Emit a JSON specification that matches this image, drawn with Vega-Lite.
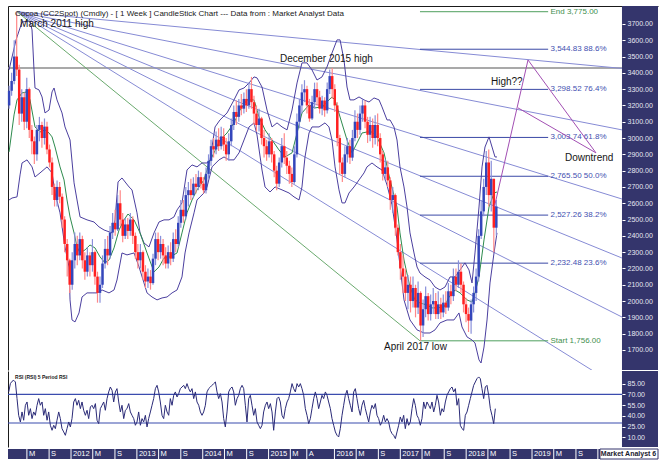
{
  "$schema": "https://vega.github.io/schema/vega-lite/v6.json",
  "background": "#ffffff",
  "padding": {"left": 6, "top": 6, "right": 11, "bottom": 9},
  "spacing": 1,
  "config": {"view": {"stroke": null}, "font": "Liberation Sans", "axis": {"grid": false}},
  "datasets": {
    "candles": [
      {"t":2011.060,"o":3200,"h":3320,"l":3180,"c":3290},{"t":2011.098,"o":3290,"h":3400,"l":3260,"c":3350},{"t":2011.137,"o":3350,"h":3600,"l":3330,"c":3500},{"t":2011.175,"o":3500,"h":3775,"l":3380,"c":3420},{"t":2011.213,"o":3420,"h":3450,"l":3080,"c":3150},{"t":2011.252,"o":3150,"h":3300,"l":3100,"c":3250},{"t":2011.290,"o":3250,"h":3280,"l":3050,"c":3100},{"t":2011.328,"o":3100,"h":3370,"l":3060,"c":3300},{"t":2011.366,"o":3300,"h":3310,"l":3000,"c":3050},{"t":2011.405,"o":3050,"h":3080,"l":2900,"c":2980},
      {"t":2011.443,"o":2980,"h":3010,"l":2840,"c":2900},{"t":2011.482,"o":2900,"h":3080,"l":2860,"c":3050},{"t":2011.520,"o":3050,"h":3130,"l":2980,"c":3080},{"t":2011.558,"o":3080,"h":3100,"l":2940,"c":3000},{"t":2011.597,"o":3000,"h":3120,"l":2960,"c":3070},{"t":2011.635,"o":3070,"h":3100,"l":2900,"c":2930},{"t":2011.673,"o":2930,"h":2960,"l":2820,"c":2850},{"t":2011.712,"o":2850,"h":2880,"l":2650,"c":2700},{"t":2011.750,"o":2700,"h":2720,"l":2580,"c":2620},{"t":2011.788,"o":2620,"h":2740,"l":2580,"c":2700},
      {"t":2011.827,"o":2700,"h":2730,"l":2600,"c":2640},{"t":2011.865,"o":2640,"h":2660,"l":2450,"c":2500},{"t":2011.903,"o":2500,"h":2520,"l":2300,"c":2350},{"t":2011.942,"o":2350,"h":2380,"l":2150,"c":2250},{"t":2011.980,"o":2250,"h":2260,"l":2050,"c":2100},{"t":2012.018,"o":2100,"h":2300,"l":2070,"c":2250},{"t":2012.057,"o":2250,"h":2420,"l":2200,"c":2350},{"t":2012.095,"o":2350,"h":2400,"l":2220,"c":2280},{"t":2012.133,"o":2280,"h":2420,"l":2250,"c":2380},{"t":2012.172,"o":2380,"h":2400,"l":2200,"c":2250},
      {"t":2012.210,"o":2250,"h":2300,"l":2130,"c":2180},{"t":2012.248,"o":2180,"h":2330,"l":2150,"c":2280},{"t":2012.287,"o":2280,"h":2300,"l":2150,"c":2220},{"t":2012.325,"o":2220,"h":2380,"l":2180,"c":2300},{"t":2012.363,"o":2300,"h":2310,"l":2100,"c":2150},{"t":2012.402,"o":2150,"h":2180,"l":1990,"c":2050},{"t":2012.440,"o":2050,"h":2150,"l":1990,"c":2100},{"t":2012.478,"o":2100,"h":2280,"l":2080,"c":2230},{"t":2012.517,"o":2230,"h":2380,"l":2200,"c":2320},{"t":2012.555,"o":2320,"h":2400,"l":2220,"c":2280},
      {"t":2012.593,"o":2280,"h":2460,"l":2260,"c":2420},{"t":2012.632,"o":2420,"h":2540,"l":2380,"c":2480},{"t":2012.670,"o":2480,"h":2560,"l":2400,"c":2440},{"t":2012.708,"o":2440,"h":2650,"l":2430,"c":2600},{"t":2012.747,"o":2600,"h":2680,"l":2460,"c":2500},{"t":2012.785,"o":2500,"h":2540,"l":2360,"c":2400},{"t":2012.823,"o":2400,"h":2510,"l":2380,"c":2470},{"t":2012.862,"o":2470,"h":2510,"l":2380,"c":2430},{"t":2012.900,"o":2430,"h":2540,"l":2400,"c":2500},{"t":2012.938,"o":2500,"h":2520,"l":2350,"c":2400},
      {"t":2012.977,"o":2400,"h":2420,"l":2260,"c":2300},{"t":2013.015,"o":2300,"h":2350,"l":2200,"c":2250},{"t":2013.053,"o":2250,"h":2350,"l":2200,"c":2300},{"t":2013.092,"o":2300,"h":2310,"l":2130,"c":2180},{"t":2013.130,"o":2180,"h":2220,"l":2080,"c":2120},{"t":2013.168,"o":2120,"h":2200,"l":2080,"c":2150},{"t":2013.207,"o":2150,"h":2190,"l":2070,"c":2110},{"t":2013.245,"o":2110,"h":2290,"l":2100,"c":2260},{"t":2013.283,"o":2260,"h":2420,"l":2220,"c":2380},{"t":2013.322,"o":2380,"h":2420,"l":2250,"c":2300},
      {"t":2013.360,"o":2300,"h":2400,"l":2260,"c":2350},{"t":2013.398,"o":2350,"h":2380,"l":2220,"c":2280},{"t":2013.437,"o":2280,"h":2330,"l":2200,"c":2230},{"t":2013.475,"o":2230,"h":2340,"l":2200,"c":2300},{"t":2013.513,"o":2300,"h":2360,"l":2220,"c":2260},{"t":2013.552,"o":2260,"h":2420,"l":2240,"c":2380},{"t":2013.590,"o":2380,"h":2440,"l":2300,"c":2350},{"t":2013.628,"o":2350,"h":2520,"l":2330,"c":2480},{"t":2013.667,"o":2480,"h":2620,"l":2450,"c":2560},{"t":2013.705,"o":2560,"h":2620,"l":2480,"c":2520},
      {"t":2013.743,"o":2520,"h":2700,"l":2500,"c":2650},{"t":2013.782,"o":2650,"h":2730,"l":2580,"c":2680},{"t":2013.820,"o":2680,"h":2750,"l":2620,"c":2650},{"t":2013.858,"o":2650,"h":2760,"l":2630,"c":2720},{"t":2013.897,"o":2720,"h":2780,"l":2660,"c":2700},{"t":2013.935,"o":2700,"h":2800,"l":2680,"c":2760},{"t":2013.973,"o":2760,"h":2790,"l":2690,"c":2720},{"t":2014.012,"o":2720,"h":2760,"l":2660,"c":2680},{"t":2014.050,"o":2680,"h":2820,"l":2660,"c":2780},{"t":2014.088,"o":2780,"h":2900,"l":2750,"c":2860},
      {"t":2014.126,"o":2860,"h":2990,"l":2830,"c":2950},{"t":2014.165,"o":2950,"h":3000,"l":2880,"c":2930},{"t":2014.203,"o":2930,"h":3040,"l":2900,"c":2990},{"t":2014.241,"o":2990,"h":3060,"l":2920,"c":2950},{"t":2014.280,"o":2950,"h":3070,"l":2930,"c":3010},{"t":2014.318,"o":3010,"h":3060,"l":2920,"c":2960},{"t":2014.356,"o":2960,"h":3000,"l":2860,"c":2900},{"t":2014.395,"o":2900,"h":3030,"l":2860,"c":2980},{"t":2014.433,"o":2980,"h":3120,"l":2950,"c":3080},{"t":2014.471,"o":3080,"h":3200,"l":3050,"c":3160},
      {"t":2014.510,"o":3160,"h":3230,"l":3080,"c":3130},{"t":2014.548,"o":3130,"h":3240,"l":3100,"c":3200},{"t":2014.586,"o":3200,"h":3270,"l":3140,"c":3180},{"t":2014.625,"o":3180,"h":3280,"l":3150,"c":3240},{"t":2014.663,"o":3240,"h":3300,"l":3160,"c":3200},{"t":2014.701,"o":3200,"h":3340,"l":3180,"c":3300},{"t":2014.740,"o":3300,"h":3375,"l":3180,"c":3220},{"t":2014.778,"o":3220,"h":3260,"l":3080,"c":3150},{"t":2014.816,"o":3150,"h":3200,"l":3040,"c":3080},{"t":2014.855,"o":3080,"h":3180,"l":3040,"c":3120},
      {"t":2014.893,"o":3120,"h":3130,"l":2960,"c":3000},{"t":2014.931,"o":3000,"h":3050,"l":2880,"c":2950},{"t":2014.970,"o":2950,"h":2990,"l":2860,"c":2900},{"t":2015.008,"o":2900,"h":3030,"l":2880,"c":2980},{"t":2015.046,"o":2980,"h":3000,"l":2850,"c":2900},{"t":2015.085,"o":2900,"h":2920,"l":2760,"c":2800},{"t":2015.123,"o":2800,"h":2830,"l":2680,"c":2720},{"t":2015.161,"o":2720,"h":2880,"l":2700,"c":2850},{"t":2015.200,"o":2850,"h":3000,"l":2820,"c":2950},{"t":2015.238,"o":2950,"h":3030,"l":2840,"c":2880},
      {"t":2015.276,"o":2880,"h":2920,"l":2780,"c":2830},{"t":2015.315,"o":2830,"h":2860,"l":2720,"c":2780},{"t":2015.353,"o":2780,"h":2820,"l":2700,"c":2730},{"t":2015.391,"o":2730,"h":2950,"l":2720,"c":2900},{"t":2015.430,"o":2900,"h":3150,"l":2880,"c":3100},{"t":2015.468,"o":3100,"h":3240,"l":3060,"c":3200},{"t":2015.506,"o":3200,"h":3330,"l":3150,"c":3280},{"t":2015.545,"o":3280,"h":3355,"l":3220,"c":3300},{"t":2015.583,"o":3300,"h":3320,"l":3150,"c":3200},{"t":2015.621,"o":3200,"h":3240,"l":3100,"c":3120},
      {"t":2015.660,"o":3120,"h":3260,"l":3110,"c":3220},{"t":2015.698,"o":3220,"h":3340,"l":3180,"c":3300},{"t":2015.736,"o":3300,"h":3340,"l":3200,"c":3250},{"t":2015.775,"o":3250,"h":3290,"l":3150,"c":3180},{"t":2015.813,"o":3180,"h":3260,"l":3140,"c":3230},{"t":2015.851,"o":3230,"h":3250,"l":3130,"c":3170},{"t":2015.890,"o":3170,"h":3340,"l":3150,"c":3300},{"t":2015.928,"o":3300,"h":3420,"l":3270,"c":3380},{"t":2015.966,"o":3380,"h":3430,"l":3240,"c":3300},{"t":2016.005,"o":3300,"h":3330,"l":3160,"c":3200},
      {"t":2016.043,"o":3200,"h":3220,"l":2950,"c":3000},{"t":2016.081,"o":3000,"h":3020,"l":2780,"c":2850},{"t":2016.120,"o":2850,"h":2880,"l":2730,"c":2780},{"t":2016.158,"o":2780,"h":2950,"l":2760,"c":2900},{"t":2016.196,"o":2900,"h":3000,"l":2850,"c":2950},{"t":2016.235,"o":2950,"h":2990,"l":2840,"c":2880},{"t":2016.273,"o":2880,"h":3050,"l":2860,"c":3000},{"t":2016.311,"o":3000,"h":3170,"l":2980,"c":3100},{"t":2016.350,"o":3100,"h":3150,"l":3000,"c":3050},{"t":2016.388,"o":3050,"h":3200,"l":3020,"c":3150},
      {"t":2016.426,"o":3150,"h":3240,"l":3100,"c":3200},{"t":2016.465,"o":3200,"h":3230,"l":3060,"c":3100},{"t":2016.503,"o":3100,"h":3130,"l":2970,"c":3020},{"t":2016.541,"o":3020,"h":3130,"l":2980,"c":3080},{"t":2016.580,"o":3080,"h":3120,"l":2940,"c":3000},{"t":2016.618,"o":3000,"h":3140,"l":2960,"c":3080},{"t":2016.656,"o":3080,"h":3150,"l":2950,"c":3000},{"t":2016.695,"o":3000,"h":3030,"l":2850,"c":2900},{"t":2016.733,"o":2900,"h":2920,"l":2740,"c":2780},{"t":2016.771,"o":2780,"h":2870,"l":2740,"c":2820},
      {"t":2016.810,"o":2820,"h":2860,"l":2700,"c":2740},{"t":2016.848,"o":2740,"h":2760,"l":2560,"c":2620},{"t":2016.886,"o":2620,"h":2700,"l":2540,"c":2650},{"t":2016.925,"o":2650,"h":2660,"l":2400,"c":2450},{"t":2016.963,"o":2450,"h":2470,"l":2280,"c":2300},{"t":2017.001,"o":2300,"h":2350,"l":2130,"c":2200},{"t":2017.040,"o":2200,"h":2280,"l":2050,"c":2150},{"t":2017.078,"o":2150,"h":2200,"l":2000,"c":2050},{"t":2017.116,"o":2050,"h":2160,"l":1950,"c":2100},{"t":2017.155,"o":2100,"h":2150,"l":1930,"c":2000},
      {"t":2017.193,"o":2000,"h":2150,"l":1960,"c":2080},{"t":2017.231,"o":2080,"h":2100,"l":1900,"c":1960},{"t":2017.270,"o":1960,"h":2120,"l":1920,"c":2050},{"t":2017.308,"o":2050,"h":2060,"l":1756,"c":1850},{"t":2017.346,"o":1850,"h":2010,"l":1780,"c":1950},{"t":2017.385,"o":1950,"h":2090,"l":1900,"c":2030},{"t":2017.423,"o":2030,"h":2050,"l":1880,"c":1920},{"t":2017.461,"o":1920,"h":2040,"l":1880,"c":1980},{"t":2017.500,"o":1980,"h":2080,"l":1920,"c":2000},{"t":2017.538,"o":2000,"h":2050,"l":1890,"c":1920},
      {"t":2017.576,"o":1920,"h":2060,"l":1890,"c":1980},{"t":2017.615,"o":1980,"h":2020,"l":1890,"c":1930},{"t":2017.653,"o":1930,"h":2040,"l":1900,"c":1990},{"t":2017.691,"o":1990,"h":2060,"l":1920,"c":1960},{"t":2017.730,"o":1960,"h":2110,"l":1940,"c":2060},{"t":2017.768,"o":2060,"h":2100,"l":1980,"c":2030},{"t":2017.806,"o":2030,"h":2200,"l":2000,"c":2150},{"t":2017.845,"o":2150,"h":2200,"l":2060,"c":2100},{"t":2017.883,"o":2100,"h":2250,"l":2080,"c":2180},{"t":2017.921,"o":2180,"h":2230,"l":2050,"c":2100},
      {"t":2017.960,"o":2100,"h":2120,"l":1930,"c":1980},{"t":2017.998,"o":1980,"h":2020,"l":1870,"c":1920},{"t":2018.036,"o":1920,"h":1960,"l":1810,"c":1880},{"t":2018.075,"o":1880,"h":2010,"l":1800,"c":1980},{"t":2018.113,"o":1980,"h":2090,"l":1930,"c":2050},{"t":2018.151,"o":2050,"h":2200,"l":2000,"c":2150},{"t":2018.190,"o":2150,"h":2440,"l":2120,"c":2400},{"t":2018.228,"o":2400,"h":2620,"l":2380,"c":2550},{"t":2018.266,"o":2550,"h":2750,"l":2520,"c":2700},{"t":2018.305,"o":2700,"h":2920,"l":2650,"c":2850},
      {"t":2018.343,"o":2850,"h":2930,"l":2580,"c":2650},{"t":2018.381,"o":2650,"h":2860,"l":2550,"c":2750},{"t":2018.420,"o":2750,"h":2750,"l":2300,"c":2450},{"t":2018.458,"o":2450,"h":2620,"l":2400,"c":2580}
    ],
    "bands": [
      {"s":"up","t":2011.059,"v":3418},{"s":"up","t":2011.165,"v":3602},{"s":"up","t":2011.256,"v":3712},{"s":"up","t":2011.377,"v":3718},{"s":"up","t":2011.408,"v":3663},{"s":"up","t":2011.438,"v":3418},{"s":"up","t":2011.453,"v":3307},{"s":"up","t":2011.514,"v":3295},{"s":"up","t":2011.560,"v":3252},{"s":"up","t":2011.605,"v":3154},{"s":"up","t":2011.666,"v":3172},{"s":"up","t":2011.712,"v":3283},{"s":"up","t":2011.742,"v":3307},{"s":"up","t":2011.787,"v":3234},{"s":"up","t":2011.863,"v":3154},{"s":"up","t":2011.909,"v":3068},{"s":"up","t":2011.985,"v":2988},{"s":"up","t":2012.046,"v":2725},{"s":"up","t":2012.091,"v":2620},{"s":"up","t":2012.137,"v":2516},{"s":"up","t":2012.243,"v":2498},{"s":"up","t":2012.349,"v":2485},{"s":"up","t":2012.425,"v":2455},{"s":"up","t":2012.501,"v":2436},{"s":"up","t":2012.623,"v":2418},{"s":"up","t":2012.668,"v":2498},{"s":"up","t":2012.714,"v":2731},{"s":"up","t":2012.774,"v":2755},{"s":"up","t":2012.881,"v":2700},{"s":"up","t":2012.926,"v":2682},{"s":"up","t":2013.002,"v":2541},{"s":"up","t":2013.048,"v":2418},{"s":"up","t":2013.108,"v":2356},{"s":"up","t":2013.184,"v":2332},{"s":"up","t":2013.260,"v":2418},{"s":"up","t":2013.336,"v":2485},{"s":"up","t":2013.412,"v":2498},{"s":"up","t":2013.488,"v":2498},{"s":"up","t":2013.564,"v":2516},{"s":"up","t":2013.610,"v":2559},{"s":"up","t":2013.685,"v":2602},{"s":"up","t":2013.761,"v":2804},{"s":"up","t":2013.837,"v":2835},{"s":"up","t":2013.913,"v":2823},{"s":"up","t":2013.989,"v":2847},{"s":"up","t":2014.065,"v":2847},{"s":"up","t":2014.111,"v":2866},{"s":"up","t":2014.187,"v":3068},{"s":"up","t":2014.262,"v":3111},{"s":"up","t":2014.369,"v":3154},{"s":"up","t":2014.475,"v":3234},{"s":"up","t":2014.551,"v":3295},{"s":"up","t":2014.627,"v":3307},{"s":"up","t":2014.703,"v":3338},{"s":"up","t":2014.779,"v":3375},{"s":"up","t":2014.824,"v":3369},{"s":"up","t":2014.900,"v":3313},{"s":"up","t":2014.976,"v":3172},{"s":"up","t":2015.052,"v":3068},{"s":"up","t":2015.128,"v":3093},{"s":"up","t":2015.204,"v":3068},{"s":"up","t":2015.280,"v":3050},{"s":"up","t":2015.356,"v":3172},{"s":"up","t":2015.432,"v":3338},{"s":"up","t":2015.507,"v":3461},{"s":"up","t":2015.583,"v":3461},{"s":"up","t":2015.659,"v":3418},{"s":"up","t":2015.735,"v":3356},{"s":"up","t":2015.811,"v":3375},{"s":"up","t":2015.887,"v":3436},{"s":"up","t":2015.963,"v":3522},{"s":"up","t":2016.039,"v":3602},{"s":"up","t":2016.085,"v":3602},{"s":"up","t":2016.145,"v":3479},{"s":"up","t":2016.191,"v":3313},{"s":"up","t":2016.236,"v":3234},{"s":"up","t":2016.297,"v":3234},{"s":"up","t":2016.373,"v":3252},{"s":"up","t":2016.449,"v":3234},{"s":"up","t":2016.525,"v":3221},{"s":"up","t":2016.601,"v":3246},{"s":"up","t":2016.677,"v":3234},{"s":"up","t":2016.722,"v":3191},{"s":"up","t":2016.798,"v":3111},{"s":"up","t":2016.844,"v":3111},{"s":"up","t":2016.904,"v":3068},{"s":"up","t":2016.950,"v":2988},{"s":"up","t":2016.995,"v":2823},{"s":"up","t":2017.056,"v":2700},{"s":"up","t":2017.102,"v":2577},{"s":"up","t":2017.147,"v":2418},{"s":"up","t":2017.208,"v":2295},{"s":"up","t":2017.254,"v":2209},{"s":"up","t":2017.299,"v":2172},{"s":"up","t":2017.375,"v":2148},{"s":"up","t":2017.451,"v":2129},{"s":"up","t":2017.527,"v":2086},{"s":"up","t":2017.603,"v":2068},{"s":"up","t":2017.679,"v":2086},{"s":"up","t":2017.755,"v":2148},{"s":"up","t":2017.831,"v":2148},{"s":"up","t":2017.907,"v":2191},{"s":"up","t":2017.982,"v":2234},{"s":"up","t":2018.043,"v":2191},{"s":"up","t":2018.089,"v":2111},{"s":"up","t":2018.134,"v":2295},{"s":"up","t":2018.195,"v":2577},{"s":"up","t":2018.241,"v":2823},{"s":"up","t":2018.286,"v":2945},{"s":"up","t":2018.347,"v":3007},{"s":"up","t":2018.393,"v":2945},{"s":"up","t":2018.438,"v":2884},{"s":"up","t":2018.468,"v":2884},
      {"s":"lo","t":2011.059,"v":2620},{"s":"lo","t":2011.104,"v":2632},{"s":"lo","t":2011.180,"v":2639},{"s":"lo","t":2011.226,"v":2774},{"s":"lo","t":2011.256,"v":2847},{"s":"lo","t":2011.332,"v":2866},{"s":"lo","t":2011.408,"v":2823},{"s":"lo","t":2011.453,"v":2761},{"s":"lo","t":2011.529,"v":2786},{"s":"lo","t":2011.636,"v":2823},{"s":"lo","t":2011.712,"v":2786},{"s":"lo","t":2011.757,"v":2663},{"s":"lo","t":2011.833,"v":2541},{"s":"lo","t":2011.909,"v":2332},{"s":"lo","t":2011.970,"v":2209},{"s":"lo","t":2011.985,"v":2007},{"s":"lo","t":2012.015,"v":1884},{"s":"lo","t":2012.061,"v":1872},{"s":"lo","t":2012.121,"v":1927},{"s":"lo","t":2012.167,"v":2025},{"s":"lo","t":2012.243,"v":2050},{"s":"lo","t":2012.319,"v":2050},{"s":"lo","t":2012.395,"v":2050},{"s":"lo","t":2012.471,"v":2068},{"s":"lo","t":2012.577,"v":2050},{"s":"lo","t":2012.653,"v":2068},{"s":"lo","t":2012.698,"v":2129},{"s":"lo","t":2012.774,"v":2295},{"s":"lo","t":2012.850,"v":2283},{"s":"lo","t":2012.957,"v":2295},{"s":"lo","t":2013.033,"v":2209},{"s":"lo","t":2013.108,"v":2111},{"s":"lo","t":2013.154,"v":2050},{"s":"lo","t":2013.230,"v":2025},{"s":"lo","t":2013.306,"v":2007},{"s":"lo","t":2013.382,"v":2019},{"s":"lo","t":2013.458,"v":2025},{"s":"lo","t":2013.534,"v":2050},{"s":"lo","t":2013.610,"v":2068},{"s":"lo","t":2013.685,"v":2148},{"s":"lo","t":2013.731,"v":2295},{"s":"lo","t":2013.792,"v":2418},{"s":"lo","t":2013.868,"v":2541},{"s":"lo","t":2013.913,"v":2620},{"s":"lo","t":2013.959,"v":2639},{"s":"lo","t":2014.019,"v":2663},{"s":"lo","t":2014.065,"v":2700},{"s":"lo","t":2014.141,"v":2823},{"s":"lo","t":2014.247,"v":2866},{"s":"lo","t":2014.323,"v":2884},{"s":"lo","t":2014.399,"v":2866},{"s":"lo","t":2014.475,"v":2866},{"s":"lo","t":2014.551,"v":2909},{"s":"lo","t":2014.627,"v":2988},{"s":"lo","t":2014.703,"v":3068},{"s":"lo","t":2014.779,"v":3093},{"s":"lo","t":2014.824,"v":3019},{"s":"lo","t":2014.900,"v":2804},{"s":"lo","t":2014.946,"v":2700},{"s":"lo","t":2015.022,"v":2669},{"s":"lo","t":2015.098,"v":2700},{"s":"lo","t":2015.204,"v":2682},{"s":"lo","t":2015.310,"v":2663},{"s":"lo","t":2015.386,"v":2639},{"s":"lo","t":2015.462,"v":2620},{"s":"lo","t":2015.507,"v":2700},{"s":"lo","t":2015.553,"v":2884},{"s":"lo","t":2015.614,"v":3031},{"s":"lo","t":2015.659,"v":3068},{"s":"lo","t":2015.766,"v":3068},{"s":"lo","t":2015.857,"v":3093},{"s":"lo","t":2015.917,"v":3068},{"s":"lo","t":2015.963,"v":2988},{"s":"lo","t":2016.009,"v":2823},{"s":"lo","t":2016.069,"v":2682},{"s":"lo","t":2016.115,"v":2602},{"s":"lo","t":2016.160,"v":2602},{"s":"lo","t":2016.221,"v":2663},{"s":"lo","t":2016.297,"v":2700},{"s":"lo","t":2016.373,"v":2743},{"s":"lo","t":2016.449,"v":2786},{"s":"lo","t":2016.494,"v":2823},{"s":"lo","t":2016.570,"v":2847},{"s":"lo","t":2016.646,"v":2823},{"s":"lo","t":2016.722,"v":2804},{"s":"lo","t":2016.798,"v":2712},{"s":"lo","t":2016.874,"v":2590},{"s":"lo","t":2016.950,"v":2375},{"s":"lo","t":2017.056,"v":2007},{"s":"lo","t":2017.147,"v":1884},{"s":"lo","t":2017.254,"v":1823},{"s":"lo","t":2017.360,"v":1804},{"s":"lo","t":2017.451,"v":1804},{"s":"lo","t":2017.527,"v":1823},{"s":"lo","t":2017.603,"v":1866},{"s":"lo","t":2017.709,"v":1884},{"s":"lo","t":2017.815,"v":1884},{"s":"lo","t":2017.891,"v":1927},{"s":"lo","t":2017.937,"v":1841},{"s":"lo","t":2018.013,"v":1780},{"s":"lo","t":2018.089,"v":1761},{"s":"lo","t":2018.134,"v":1743},{"s":"lo","t":2018.195,"v":1639},{"s":"lo","t":2018.226,"v":1620},{"s":"lo","t":2018.271,"v":1718},{"s":"lo","t":2018.317,"v":1884},{"s":"lo","t":2018.362,"v":2111},{"s":"lo","t":2018.423,"v":2295},{"s":"lo","t":2018.468,"v":2418},
      {"s":"ma","t":2011.059,"v":2915},{"s":"ma","t":2011.135,"v":3142},{"s":"ma","t":2011.180,"v":3234},{"s":"ma","t":2011.256,"v":3277},{"s":"ma","t":2011.332,"v":3283},{"s":"ma","t":2011.377,"v":3234},{"s":"ma","t":2011.453,"v":3068},{"s":"ma","t":2011.529,"v":3037},{"s":"ma","t":2011.605,"v":3050},{"s":"ma","t":2011.666,"v":3031},{"s":"ma","t":2011.712,"v":3007},{"s":"ma","t":2011.757,"v":2945},{"s":"ma","t":2011.833,"v":2823},{"s":"ma","t":2011.894,"v":2743},{"s":"ma","t":2011.939,"v":2620},{"s":"ma","t":2011.985,"v":2516},{"s":"ma","t":2012.046,"v":2418},{"s":"ma","t":2012.091,"v":2332},{"s":"ma","t":2012.137,"v":2295},{"s":"ma","t":2012.213,"v":2314},{"s":"ma","t":2012.288,"v":2344},{"s":"ma","t":2012.364,"v":2326},{"s":"ma","t":2012.440,"v":2271},{"s":"ma","t":2012.516,"v":2234},{"s":"ma","t":2012.577,"v":2252},{"s":"ma","t":2012.653,"v":2326},{"s":"ma","t":2012.729,"v":2436},{"s":"ma","t":2012.805,"v":2498},{"s":"ma","t":2012.865,"v":2534},{"s":"ma","t":2012.957,"v":2498},{"s":"ma","t":2013.048,"v":2418},{"s":"ma","t":2013.154,"v":2295},{"s":"ma","t":2013.260,"v":2179},{"s":"ma","t":2013.336,"v":2209},{"s":"ma","t":2013.412,"v":2264},{"s":"ma","t":2013.503,"v":2271},{"s":"ma","t":2013.610,"v":2295},{"s":"ma","t":2013.685,"v":2418},{"s":"ma","t":2013.761,"v":2541},{"s":"ma","t":2013.837,"v":2620},{"s":"ma","t":2013.913,"v":2682},{"s":"ma","t":2014.019,"v":2743},{"s":"ma","t":2014.095,"v":2847},{"s":"ma","t":2014.171,"v":2909},{"s":"ma","t":2014.262,"v":2988},{"s":"ma","t":2014.369,"v":3031},{"s":"ma","t":2014.475,"v":3093},{"s":"ma","t":2014.566,"v":3172},{"s":"ma","t":2014.672,"v":3234},{"s":"ma","t":2014.779,"v":3234},{"s":"ma","t":2014.855,"v":3129},{"s":"ma","t":2014.946,"v":3050},{"s":"ma","t":2015.052,"v":2988},{"s":"ma","t":2015.158,"v":2927},{"s":"ma","t":2015.249,"v":2884},{"s":"ma","t":2015.356,"v":2909},{"s":"ma","t":2015.432,"v":3031},{"s":"ma","t":2015.507,"v":3154},{"s":"ma","t":2015.614,"v":3203},{"s":"ma","t":2015.705,"v":3185},{"s":"ma","t":2015.811,"v":3191},{"s":"ma","t":2015.917,"v":3234},{"s":"ma","t":2015.963,"v":3252},{"s":"ma","t":2016.009,"v":3234},{"s":"ma","t":2016.085,"v":3129},{"s":"ma","t":2016.191,"v":2988},{"s":"ma","t":2016.267,"v":2909},{"s":"ma","t":2016.343,"v":2970},{"s":"ma","t":2016.419,"v":3031},{"s":"ma","t":2016.494,"v":3037},{"s":"ma","t":2016.570,"v":3037},{"s":"ma","t":2016.646,"v":3007},{"s":"ma","t":2016.753,"v":2909},{"s":"ma","t":2016.844,"v":2743},{"s":"ma","t":2016.950,"v":2577},{"s":"ma","t":2016.995,"v":2418},{"s":"ma","t":2017.056,"v":2252},{"s":"ma","t":2017.147,"v":2086},{"s":"ma","t":2017.223,"v":2007},{"s":"ma","t":2017.299,"v":1988},{"s":"ma","t":2017.406,"v":1976},{"s":"ma","t":2017.481,"v":1958},{"s":"ma","t":2017.557,"v":1958},{"s":"ma","t":2017.664,"v":1964},{"s":"ma","t":2017.740,"v":2025},{"s":"ma","t":2017.831,"v":2068},{"s":"ma","t":2017.907,"v":2050},{"s":"ma","t":2018.013,"v":2007},{"s":"ma","t":2018.089,"v":1994},{"s":"ma","t":2018.134,"v":2050},{"s":"ma","t":2018.195,"v":2148},{"s":"ma","t":2018.271,"v":2375},{"s":"ma","t":2018.347,"v":2577},{"s":"ma","t":2018.423,"v":2663},{"s":"ma","t":2018.468,"v":2669}
    ],
    "rsi": [
      {"t":2011.054,"r":73.3},{"t":2011.079,"r":84.9},{"t":2011.104,"r":88.1},{"t":2011.130,"r":89.5},{"t":2011.155,"r":87.2},{"t":2011.180,"r":64.0},{"t":2011.205,"r":40.7},{"t":2011.231,"r":31.4},{"t":2011.256,"r":45.4},{"t":2011.281,"r":33.8},{"t":2011.307,"r":54.7},{"t":2011.332,"r":59.3},{"t":2011.357,"r":40.7},{"t":2011.383,"r":50.0},{"t":2011.408,"r":36.1},{"t":2011.433,"r":45.4},{"t":2011.458,"r":40.7},{"t":2011.484,"r":54.7},{"t":2011.509,"r":64.0},{"t":2011.534,"r":54.7},{"t":2011.560,"r":59.3},{"t":2011.585,"r":40.7},{"t":2011.610,"r":50.0},{"t":2011.636,"r":33.8},{"t":2011.661,"r":45.4},{"t":2011.686,"r":26.8},{"t":2011.712,"r":19.8},{"t":2011.737,"r":26.8},{"t":2011.762,"r":22.1},{"t":2011.787,"r":33.8},{"t":2011.813,"r":45.4},{"t":2011.838,"r":36.1},{"t":2011.863,"r":22.1},{"t":2011.889,"r":17.5},{"t":2011.914,"r":12.8},{"t":2011.939,"r":22.1},{"t":2011.965,"r":31.4},{"t":2011.990,"r":24.5},{"t":2012.015,"r":36.1},{"t":2012.041,"r":59.3},{"t":2012.066,"r":64.0},{"t":2012.091,"r":54.7},{"t":2012.116,"r":61.6},{"t":2012.142,"r":50.0},{"t":2012.167,"r":59.3},{"t":2012.192,"r":47.7},{"t":2012.218,"r":40.7},{"t":2012.243,"r":47.7},{"t":2012.268,"r":36.1},{"t":2012.294,"r":52.3},{"t":2012.319,"r":54.7},{"t":2012.344,"r":50.0},{"t":2012.370,"r":57.0},{"t":2012.395,"r":33.8},{"t":2012.420,"r":29.1},{"t":2012.445,"r":50.0},{"t":2012.471,"r":54.7},{"t":2012.496,"r":59.3},{"t":2012.521,"r":47.7},{"t":2012.547,"r":64.0},{"t":2012.572,"r":73.3},{"t":2012.597,"r":80.2},{"t":2012.623,"r":75.6},{"t":2012.648,"r":59.3},{"t":2012.673,"r":73.3},{"t":2012.698,"r":77.9},{"t":2012.724,"r":59.3},{"t":2012.749,"r":45.4},{"t":2012.774,"r":54.7},{"t":2012.800,"r":36.1},{"t":2012.825,"r":47.7},{"t":2012.850,"r":50.0},{"t":2012.876,"r":57.0},{"t":2012.901,"r":45.4},{"t":2012.926,"r":40.7},{"t":2012.952,"r":36.1},{"t":2012.977,"r":26.8},{"t":2013.002,"r":31.4},{"t":2013.027,"r":45.4},{"t":2013.053,"r":26.8},{"t":2013.078,"r":36.1},{"t":2013.103,"r":31.4},{"t":2013.129,"r":40.7},{"t":2013.154,"r":24.5},{"t":2013.179,"r":36.1},{"t":2013.205,"r":45.4},{"t":2013.230,"r":54.7},{"t":2013.255,"r":64.0},{"t":2013.281,"r":77.9},{"t":2013.306,"r":82.5},{"t":2013.331,"r":73.3},{"t":2013.356,"r":59.3},{"t":2013.382,"r":40.7},{"t":2013.407,"r":36.1},{"t":2013.432,"r":54.7},{"t":2013.458,"r":45.4},{"t":2013.483,"r":40.7},{"t":2013.508,"r":64.0},{"t":2013.534,"r":54.7},{"t":2013.559,"r":68.6},{"t":2013.584,"r":73.3},{"t":2013.610,"r":66.3},{"t":2013.635,"r":70.9},{"t":2013.660,"r":77.9},{"t":2013.685,"r":80.2},{"t":2013.711,"r":82.5},{"t":2013.736,"r":77.9},{"t":2013.761,"r":84.9},{"t":2013.787,"r":77.9},{"t":2013.812,"r":73.3},{"t":2013.837,"r":77.9},{"t":2013.863,"r":64.0},{"t":2013.888,"r":73.3},{"t":2013.913,"r":59.3},{"t":2013.939,"r":54.7},{"t":2013.964,"r":45.4},{"t":2013.989,"r":40.7},{"t":2014.014,"r":45.4},{"t":2014.040,"r":54.7},{"t":2014.065,"r":73.3},{"t":2014.090,"r":77.9},{"t":2014.116,"r":80.2},{"t":2014.141,"r":82.5},{"t":2014.166,"r":84.9},{"t":2014.192,"r":87.2},{"t":2014.217,"r":73.3},{"t":2014.242,"r":64.0},{"t":2014.268,"r":70.9},{"t":2014.293,"r":59.3},{"t":2014.318,"r":36.1},{"t":2014.343,"r":24.5},{"t":2014.369,"r":45.4},{"t":2014.394,"r":73.3},{"t":2014.419,"r":77.9},{"t":2014.445,"r":80.2},{"t":2014.470,"r":73.3},{"t":2014.495,"r":54.7},{"t":2014.521,"r":64.0},{"t":2014.546,"r":68.6},{"t":2014.571,"r":77.9},{"t":2014.597,"r":82.5},{"t":2014.622,"r":77.9},{"t":2014.647,"r":54.7},
      {"t":2014.672,"r":31.4},{"t":2014.698,"r":64.0},{"t":2014.723,"r":68.6},{"t":2014.748,"r":54.7},{"t":2014.774,"r":40.7},{"t":2014.799,"r":50.0},{"t":2014.824,"r":31.4},{"t":2014.849,"r":26.8},{"t":2014.875,"r":22.1},{"t":2014.900,"r":26.8},{"t":2014.925,"r":45.4},{"t":2014.951,"r":54.7},{"t":2014.976,"r":59.3},{"t":2015.001,"r":50.0},{"t":2015.027,"r":57.0},{"t":2015.052,"r":45.4},{"t":2015.077,"r":19.8},{"t":2015.103,"r":45.4},{"t":2015.128,"r":64.0},{"t":2015.153,"r":66.3},{"t":2015.178,"r":59.3},{"t":2015.204,"r":40.7},{"t":2015.229,"r":36.1},{"t":2015.254,"r":50.0},{"t":2015.280,"r":59.3},{"t":2015.305,"r":64.0},{"t":2015.330,"r":73.3},{"t":2015.356,"r":84.9},{"t":2015.381,"r":77.9},{"t":2015.406,"r":73.3},{"t":2015.432,"r":84.9},{"t":2015.457,"r":80.2},{"t":2015.482,"r":84.9},{"t":2015.507,"r":77.9},{"t":2015.533,"r":68.6},{"t":2015.558,"r":50.0},{"t":2015.583,"r":40.7},{"t":2015.609,"r":29.1},{"t":2015.634,"r":36.1},{"t":2015.659,"r":50.0},{"t":2015.685,"r":64.0},{"t":2015.710,"r":73.3},{"t":2015.735,"r":64.0},{"t":2015.760,"r":50.0},{"t":2015.786,"r":59.3},{"t":2015.811,"r":68.6},{"t":2015.836,"r":64.0},{"t":2015.862,"r":73.3},{"t":2015.887,"r":68.6},{"t":2015.912,"r":59.3},{"t":2015.938,"r":50.0},{"t":2015.963,"r":36.1},{"t":2015.988,"r":26.8},{"t":2016.014,"r":17.5},{"t":2016.039,"r":12.8},{"t":2016.064,"r":10.5},{"t":2016.089,"r":22.1},{"t":2016.115,"r":40.7},{"t":2016.140,"r":54.7},{"t":2016.165,"r":68.6},{"t":2016.191,"r":75.6},{"t":2016.216,"r":64.0},{"t":2016.241,"r":54.7},{"t":2016.267,"r":45.4},{"t":2016.292,"r":73.3},{"t":2016.317,"r":77.9},{"t":2016.342,"r":64.0},{"t":2016.368,"r":50.0},{"t":2016.393,"r":40.7},{"t":2016.418,"r":54.7},{"t":2016.444,"r":61.6},{"t":2016.469,"r":50.0},{"t":2016.494,"r":40.7},{"t":2016.520,"r":31.4},{"t":2016.545,"r":45.4},{"t":2016.570,"r":54.7},{"t":2016.596,"r":50.0},{"t":2016.621,"r":57.0},{"t":2016.646,"r":40.7},{"t":2016.671,"r":36.1},{"t":2016.697,"r":26.8},{"t":2016.722,"r":31.4},{"t":2016.747,"r":40.7},{"t":2016.773,"r":31.4},{"t":2016.798,"r":36.1},{"t":2016.823,"r":31.4},{"t":2016.849,"r":19.8},{"t":2016.874,"r":15.2},{"t":2016.899,"r":12.8},{"t":2016.925,"r":8.2},{"t":2016.950,"r":17.5},{"t":2016.975,"r":26.8},{"t":2017.000,"r":38.4},{"t":2017.026,"r":31.4},{"t":2017.051,"r":40.7},{"t":2017.076,"r":22.1},{"t":2017.102,"r":36.1},{"t":2017.127,"r":26.8},{"t":2017.152,"r":31.4},{"t":2017.178,"r":50.0},{"t":2017.203,"r":64.0},{"t":2017.228,"r":54.7},{"t":2017.253,"r":40.7},{"t":2017.279,"r":36.1},{"t":2017.304,"r":26.8},{"t":2017.329,"r":36.1},{"t":2017.355,"r":59.3},{"t":2017.380,"r":50.0},{"t":2017.405,"r":59.3},{"t":2017.431,"r":54.7},{"t":2017.456,"r":50.0},{"t":2017.481,"r":59.3},{"t":2017.507,"r":45.4},{"t":2017.532,"r":54.7},{"t":2017.557,"r":68.6},{"t":2017.582,"r":59.3},{"t":2017.608,"r":40.7},{"t":2017.633,"r":50.0},{"t":2017.658,"r":45.4},{"t":2017.684,"r":59.3},{"t":2017.709,"r":68.6},{"t":2017.734,"r":73.3},{"t":2017.760,"r":77.9},{"t":2017.785,"r":80.2},{"t":2017.810,"r":73.3},{"t":2017.836,"r":77.9},{"t":2017.861,"r":54.7},{"t":2017.886,"r":64.0},{"t":2017.911,"r":26.8},{"t":2017.937,"r":22.1},{"t":2017.962,"r":19.8},{"t":2017.987,"r":40.7},{"t":2018.013,"r":45.4},{"t":2018.038,"r":54.7},{"t":2018.063,"r":64.0},{"t":2018.089,"r":73.3},{"t":2018.114,"r":82.5},{"t":2018.139,"r":87.2},{"t":2018.164,"r":91.8},{"t":2018.190,"r":94.2},{"t":2018.215,"r":91.8},{"t":2018.240,"r":77.9},{"t":2018.266,"r":64.0},{"t":2018.291,"r":80.2},{"t":2018.316,"r":82.5},{"t":2018.342,"r":68.6},{"t":2018.367,"r":50.0},{"t":2018.392,"r":40.7},{"t":2018.418,"r":29.1},{"t":2018.443,"r":50.0}
    ],
    "fan": [
      {"id":"A","g":"fan","t":2011.18,"p":3775},{"id":"A","g":"fan","t":2020.366,"p":3427},
      {"id":"B","g":"fan","t":2011.18,"p":3775},{"id":"B","g":"fan","t":2020.366,"p":3050},
      {"id":"C","g":"fan","t":2011.18,"p":3775},{"id":"C","g":"fan","t":2020.366,"p":2626},
      {"id":"D","g":"fan","t":2011.18,"p":3775},{"id":"D","g":"fan","t":2020.366,"p":2264},
      {"id":"E","g":"fan","t":2011.18,"p":3775},{"id":"E","g":"fan","t":2020.366,"p":1902},
      {"id":"F","g":"fan","t":2011.18,"p":3775},{"id":"F","g":"fan","t":2020.366,"p":1461},
      {"id":"G","g":"grn","t":2011.18,"p":3775},{"id":"G","g":"grn","t":2017.299,"p":1756}
    ],
    "fib": [
      {"p":3775,"k":"g","lab":"End 3,775.00","t":2017.299,"t2":2019.245},
      {"p":3544.83,"k":"b","lab":"3,544.83 88.6%","t":2017.299,"t2":2019.245},
      {"p":3298.52,"k":"b","lab":"3,298.52 76.4%","t":2017.299,"t2":2019.245},
      {"p":3003.74,"k":"b","lab":"3,003.74 61.8%","t":2017.299,"t2":2019.245},
      {"p":2765.5,"k":"b","lab":"2,765.50 50.0%","t":2017.299,"t2":2019.245},
      {"p":2527.26,"k":"b","lab":"2,527.26 38.2%","t":2017.299,"t2":2019.245},
      {"p":2232.48,"k":"b","lab":"2,232.48 23.6%","t":2017.299,"t2":2019.245},
      {"p":1756,"k":"g","lab":"Start 1,756.00","t":2017.299,"t2":2019.245}
    ],
    "months": [
      {"t":2011.33,"lab":"M"},{"t":2011.667,"lab":"S"},{"t":2012,"lab":"2012"},{"t":2012.33,"lab":"M"},{"t":2012.667,"lab":"S"},
      {"t":2013,"lab":"2013"},{"t":2013.33,"lab":"M"},{"t":2013.667,"lab":"S"},{"t":2014,"lab":"2014"},{"t":2014.33,"lab":"M"},{"t":2014.667,"lab":"S"},
      {"t":2015,"lab":"2015"},{"t":2015.33,"lab":"M"},{"t":2015.58,"lab":"A"},{"t":2016,"lab":"2016"},{"t":2016.33,"lab":"M"},{"t":2016.667,"lab":"S"},
      {"t":2017,"lab":"2017"},{"t":2017.33,"lab":"M"},{"t":2017.667,"lab":"S"},{"t":2018,"lab":"2018"},{"t":2018.33,"lab":"M"},{"t":2018.667,"lab":"S"},
      {"t":2019,"lab":"2019"},{"t":2019.33,"lab":"M"},{"t":2019.667,"lab":"S"},{"t":2020,"lab":""}
    ]
  },
  "vconcat": [
    {
      "width": 650,
      "height": 364,
      "resolve": {"axis": {"y": "independent"}, "scale": {"color": "independent"}},
      "layer": [
        {
          "data": {"values": [{"t": 2020.366, "t2": 2020.913}]},
          "mark": {"type": "rect", "color": "#34356c"},
          "encoding": {
            "x": {"field": "t", "type": "quantitative", "scale": {"domain": [2011.043, 2020.913], "nice": false, "zero": false},
                  "axis": {"orient": "top", "labels": false, "ticks": false, "domainColor": "#1a1a1a", "title": null}},
            "x2": {"field": "t2"}
          }
        },
        {
          "data": {"values": [{"t": 2011.043, "t2": 2020.366, "p": 3430}]},
          "mark": {"type": "rule", "color": "#8c8c8c", "strokeWidth": 1.5},
          "encoding": {
            "x": {"field": "t", "type": "quantitative", "scale": {"domain": [2011.043, 2020.913], "nice": false, "zero": false}},
            "x2": {"field": "t2"},
            "y": {"field": "p", "type": "quantitative", "scale": {"domain": [1577, 3810], "nice": false, "zero": false},
                  "axis": {"orient": "left", "labels": false, "ticks": false, "domainColor": "#1a1a1a", "title": null}}
          }
        },
        {
          "data": {"name": "fan"},
          "mark": {"type": "line", "strokeWidth": 1, "clip": true},
          "encoding": {
            "x": {"field": "t", "type": "quantitative", "scale": {"domain": [2011.043, 2020.913], "nice": false, "zero": false}},
            "y": {"field": "p", "type": "quantitative", "scale": {"domain": [1577, 3810], "nice": false, "zero": false}, "axis": null},
            "detail": {"field": "id"},
            "color": {"field": "g", "type": "nominal", "scale": {"domain": ["fan", "grn"], "range": ["#868bd5", "#6aaa6e"]}, "legend": null}
          }
        },
        {
          "data": {"name": "fib"},
          "mark": {"type": "rule", "strokeWidth": 1},
          "encoding": {
            "x": {"field": "t", "type": "quantitative", "scale": {"domain": [2011.043, 2020.913], "nice": false, "zero": false}},
            "x2": {"field": "t2"},
            "y": {"field": "p", "type": "quantitative", "scale": {"domain": [1577, 3810], "nice": false, "zero": false}, "axis": null},
            "color": {"field": "k", "type": "nominal", "scale": {"domain": ["g", "b"], "range": ["#4e9f5e", "#3a48a6"]}, "legend": null}
          }
        },
        {
          "data": {"name": "fib"},
          "mark": {"type": "text", "align": "left", "baseline": "middle", "fontSize": 8},
          "encoding": {
            "x": {"datum": 2019.28, "type": "quantitative", "scale": {"domain": [2011.043, 2020.913], "nice": false, "zero": false}},
            "y": {"field": "p", "type": "quantitative", "scale": {"domain": [1577, 3810], "nice": false, "zero": false}, "axis": null},
            "text": {"field": "lab"},
            "color": {"field": "k", "type": "nominal", "scale": {"domain": ["g", "b"], "range": ["#3f8f4f", "#3f4fb0"]}, "legend": null}
          }
        },
        {
          "data": {"name": "bands"},
          "mark": {"type": "line", "strokeWidth": 1},
          "encoding": {
            "x": {"field": "t", "type": "quantitative", "scale": {"domain": [2011.043, 2020.913], "nice": false, "zero": false}},
            "y": {"field": "v", "type": "quantitative", "scale": {"domain": [1577, 3810], "nice": false, "zero": false}, "axis": null},
            "detail": {"field": "s"},
            "color": {"field": "s", "type": "nominal", "scale": {"domain": ["up", "lo", "ma"], "range": ["#4b3f9f", "#4b3f9f", "#2e8b4e"]}, "legend": null}
          }
        },
        {
          "data": {"name": "candles"},
          "mark": {"type": "rule", "strokeWidth": 1.2},
          "encoding": {
            "x": {"field": "t", "type": "quantitative", "scale": {"domain": [2011.043, 2020.913], "nice": false, "zero": false}},
            "y": {"field": "l", "type": "quantitative", "scale": {"domain": [1577, 3810], "nice": false, "zero": false}, "axis": null},
            "y2": {"field": "h"},
            "color": {"condition": {"test": "datum.c >= datum.o", "value": "#8990da"}, "value": "#ff8888"}
          }
        },
        {
          "data": {"name": "candles"},
          "mark": {"type": "rule", "strokeWidth": 2.5},
          "encoding": {
            "x": {"field": "t", "type": "quantitative", "scale": {"domain": [2011.043, 2020.913], "nice": false, "zero": false}},
            "y": {"field": "o", "type": "quantitative", "scale": {"domain": [1577, 3810], "nice": false, "zero": false},
                  "axis": {"orient": "right", "offset": -36, "values": [1700, 1800, 1900, 2000, 2100, 2200, 2300, 2400, 2500, 2600, 2700, 2800, 2900, 3000, 3100, 3200, 3300, 3400, 3500, 3600, 3700],
                           "format": ".2f", "domain": false, "tickColor": "#ffffff", "tickSize": 3, "labelColor": "#e8e8f2", "labelFontSize": 7, "labelPadding": 2, "zindex": 2, "title": null}},
            "y2": {"field": "c"},
            "color": {"condition": {"test": "datum.c >= datum.o", "value": "#3446bb"}, "value": "#ff2020"}
          }
        },
        {
          "data": {"values": [{"id": "a", "t": 2018.43, "p": 2580}, {"id": "a", "t": 2018.939, "p": 3479}, {"id": "a", "t": 2019.971, "p": 2909}, {"id": "b", "t": 2018.787, "p": 3185}, {"id": "b", "t": 2019.971, "p": 2909}]},
          "mark": {"type": "line", "color": "#a24fb3", "strokeWidth": 1},
          "encoding": {
            "x": {"field": "t", "type": "quantitative", "scale": {"domain": [2011.043, 2020.913], "nice": false, "zero": false}},
            "y": {"field": "p", "type": "quantitative", "scale": {"domain": [1577, 3810], "nice": false, "zero": false}, "axis": null},
            "detail": {"field": "id"}
          }
        },
        {
          "data": {"values": [
            {"t": 2011.226, "p": 3700, "txt": "March 2011 high"},
            {"t": 2015.173, "p": 3485, "txt": "December 2015 high"},
            {"t": 2018.377, "p": 3344, "txt": "High??"},
            {"t": 2019.501, "p": 2878, "txt": "Downtrend"},
            {"t": 2016.753, "p": 1718, "txt": "April 2017 low"}
          ]},
          "mark": {"type": "text", "align": "left", "baseline": "middle", "fontSize": 10, "color": "#151515"},
          "encoding": {
            "x": {"field": "t", "type": "quantitative", "scale": {"domain": [2011.043, 2020.913], "nice": false, "zero": false}},
            "y": {"field": "p", "type": "quantitative", "scale": {"domain": [1577, 3810], "nice": false, "zero": false}, "axis": null},
            "text": {"field": "txt"}
          }
        },
        {
          "data": {"values": [{"t": 2011.15, "p": 3761, "txt": "Cocoa (CC2Spot) (Cmdly) -  [ 1 Week ] CandleStick Chart --- Data from : Market Analyst Data"}]},
          "mark": {"type": "text", "align": "left", "baseline": "middle", "fontSize": 8, "color": "#202020"},
          "encoding": {
            "x": {"field": "t", "type": "quantitative", "scale": {"domain": [2011.043, 2020.913], "nice": false, "zero": false}},
            "y": {"field": "p", "type": "quantitative", "scale": {"domain": [1577, 3810], "nice": false, "zero": false}, "axis": null},
            "text": {"field": "txt"}
          }
        }
      ]
    },
    {
      "width": 650,
      "height": 76,
      "resolve": {"axis": {"y": "independent"}},
      "layer": [
        {
          "data": {"values": [{"t": 2020.366, "t2": 2020.913}]},
          "mark": {"type": "rect", "color": "#34356c"},
          "encoding": {
            "x": {"field": "t", "type": "quantitative", "scale": {"domain": [2011.043, 2020.913], "nice": false, "zero": false}, "axis": null},
            "x2": {"field": "t2"}
          }
        },
        {
          "data": {"values": [{"r": 70, "t": 2011.043, "t2": 2020.366}, {"r": 30, "t": 2011.043, "t2": 2020.366}]},
          "mark": {"type": "rule", "color": "#3b4cae", "strokeWidth": 1.2},
          "encoding": {
            "x": {"field": "t", "type": "quantitative", "scale": {"domain": [2011.043, 2020.913], "nice": false, "zero": false}, "axis": null},
            "x2": {"field": "t2"},
            "y": {"field": "r", "type": "quantitative", "scale": {"domain": [-3.5, 102.5], "nice": false, "zero": false},
                  "axis": {"orient": "right", "offset": -36, "values": [10, 25, 40, 55, 70, 85], "format": ".2f", "domain": false, "tickColor": "#ffffff", "tickSize": 3,
                           "labelColor": "#e8e8f2", "labelFontSize": 7, "labelPadding": 2, "zindex": 2, "title": null}}
          }
        },
        {
          "data": {"name": "rsi"},
          "mark": {"type": "line", "color": "#2b2b78", "strokeWidth": 1},
          "encoding": {
            "x": {"field": "t", "type": "quantitative", "scale": {"domain": [2011.043, 2020.913], "nice": false, "zero": false}, "axis": null},
            "y": {"field": "r", "type": "quantitative", "scale": {"domain": [-3.5, 102.5], "nice": false, "zero": false},
                  "axis": {"orient": "left", "labels": false, "ticks": false, "domainColor": "#1a1a1a", "title": null}}
          }
        },
        {
          "data": {"values": [{"t": 2011.15, "r": 94.8, "txt": "RSI (RSI) 5 Period RSI"}]},
          "mark": {"type": "text", "align": "left", "baseline": "middle", "fontSize": 5, "fontWeight": "bold", "color": "#202020"},
          "encoding": {
            "x": {"field": "t", "type": "quantitative", "scale": {"domain": [2011.043, 2020.913], "nice": false, "zero": false}, "axis": null},
            "y": {"field": "r", "type": "quantitative", "scale": {"domain": [-3.5, 102.5], "nice": false, "zero": false}, "axis": null},
            "text": {"field": "txt"}
          }
        }
      ]
    },
    {
      "width": 650,
      "height": 10,
      "layer": [
        {
          "data": {"values": [{"t": 2011.043, "t2": 2020.913}]},
          "mark": {"type": "rect", "color": "#34356c"},
          "encoding": {
            "x": {"field": "t", "type": "quantitative", "scale": {"domain": [2011.043, 2020.913], "nice": false, "zero": false}, "axis": null},
            "x2": {"field": "t2"}
          }
        },
        {
          "data": {"name": "months"},
          "mark": {"type": "rule", "color": "#ffffff", "strokeWidth": 1},
          "encoding": {
            "x": {"field": "t", "type": "quantitative", "scale": {"domain": [2011.043, 2020.913], "nice": false, "zero": false}, "axis": null}
          }
        },
        {
          "data": {"name": "months"},
          "mark": {"type": "text", "align": "left", "baseline": "middle", "dx": 2, "fontSize": 7.5, "color": "#ffffff"},
          "encoding": {
            "x": {"field": "t", "type": "quantitative", "scale": {"domain": [2011.043, 2020.913], "nice": false, "zero": false}, "axis": null},
            "text": {"field": "lab"}
          }
        },
        {
          "data": {"values": [{"t": 2020.032, "t2": 2020.913}]},
          "mark": {"type": "rect", "fill": "#ffffff", "stroke": "#34356c", "strokeWidth": 1},
          "encoding": {
            "x": {"field": "t", "type": "quantitative", "scale": {"domain": [2011.043, 2020.913], "nice": false, "zero": false}, "axis": null},
            "x2": {"field": "t2"}
          }
        },
        {
          "data": {"values": [{"t": 2020.045, "txt": "Market Analyst 6"}]},
          "mark": {"type": "text", "align": "left", "baseline": "middle", "fontSize": 7, "fontWeight": "bold", "color": "#1a1a2e"},
          "encoding": {
            "x": {"field": "t", "type": "quantitative", "scale": {"domain": [2011.043, 2020.913], "nice": false, "zero": false}, "axis": null},
            "text": {"field": "txt"}
          }
        }
      ]
    }
  ]
}
